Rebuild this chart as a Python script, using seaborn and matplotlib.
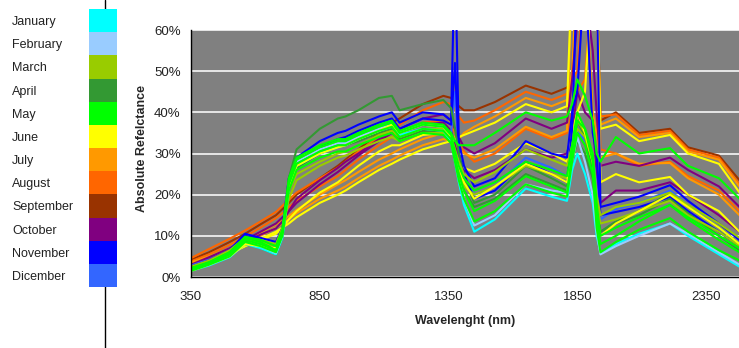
import pandas as pd
import matplotlib
matplotlib.use("Agg")
import matplotlib.pyplot as plt
import seaborn as sns
from matplotlib.lines import Line2D
from matplotlib.ticker import PercentFormatter

months = ['January', 'February', 'March', 'April', 'May', 'June', 'July',
          'August', 'September', 'October', 'November', 'Dicember']
month_colors = ['#00FFFF', '#99CCFF', '#99CC00', '#339933', '#00FF00', '#FFFF00',
                '#FF9900', '#FF6600', '#993300', '#800080', '#0000FF', '#3366FF']

wavelength = [350, 420, 500, 560, 620, 680, 705, 730, 760, 850, 920, 950, 1000,
              1080, 1130, 1160, 1250, 1330, 1360, 1375, 1390, 1410, 1450, 1530,
              1650, 1750, 1810, 1830, 1850, 1880, 1910, 1925, 1940, 2000, 2090,
              2210, 2280, 2400, 2480]

# reflectance (%) per spectrum
sep_a = [4.2, 6, 8.5, 10.5, 12.8, 15, 16.5, 18, 20, 24, 27, 28.5, 31, 35, 37.5, 38.5, 42, 44, 43.5, 42.5, 41.5, 40.5, 40.5, 42.5, 46.5, 44.5, 46, 48, 75, 75, 75, 75, 38, 40, 35, 36, 31.5, 29.5, 23.5]
aug_a = [4.6, 6.8, 9.3, 11.3, 13.5, 15.8, 17.3, 18.8, 20.5, 24, 26.5, 28, 30.5, 34, 36, 37, 40.5, 42.5, 42, 40.5, 39, 37.5, 38, 40.5, 45, 43, 44.5, 48, 50, 75, 75, 70, 39, 39.5, 34.5, 35.5, 31, 29, 22.5]
aug_b = [3.8, 5.5, 7.8, 9.8, 12, 14.3, 15.5, 17, 18.5, 22, 24.5, 26, 28.5, 32, 34, 35, 37.5, 38, 37, 35, 33, 30.5, 28, 30, 36, 33.5, 35, 40, 45, 48, 75, 72, 31, 30, 27, 28, 24.5, 21, 16]
jul_a = [3.5, 5, 7, 8.8, 10.8, 12.8, 13.8, 14.8, 16.3, 20, 22.5, 23.5, 25.5, 28.5, 30, 31, 33.5, 35, 34.5, 34, 33.5, 35, 36.5, 39, 43.5, 41.5, 43, 50, 75, 75, 75, 74, 37, 38.5, 34, 35, 30.5, 28.5, 22]
jul_b = [3, 4.5, 6.5, 8.3, 10, 12, 13, 14, 15.5, 19, 21, 22, 24, 27, 28.5, 29.5, 32, 33.5, 33, 32, 31, 30, 29, 31, 36.5, 34, 35.5, 75, 75, 75, 40, 35, 29, 30, 27.5, 27.7, 24, 20, 15]
jun_a = [2.5, 4, 5.8, 7.5, 9.3, 11, 12, 13, 14.5, 18, 20, 21, 23, 26, 27.5, 28.5, 31, 32.5, 33, 33.5, 34, 34.5, 35.5, 37.5, 42, 40, 41.5, 75, 76, 75, 75, 74, 36, 37, 33, 34.5, 30, 27.5, 20.5]
jun_b = [2, 3.5, 5.5, 7.5, 9, 10.5, 12, 14, 16, 20.5, 23, 24.5, 27, 30.5, 32, 32, 34.5, 35, 33, 30, 28, 26.5, 25.5, 27.5, 32.5, 30, 28, 35, 40, 45, 75, 75, 23, 25, 23, 24.3, 20, 16, 11]
jun_c = [1.5, 3, 5, 8, 7.5, 7, 11, 22, 27, 30, 31.5, 32, 33.5, 35.5, 37, 35, 37, 36.5, 34, 30, 27, 23, 19, 22, 27.5, 25, 23, 30, 40, 35, 28, 15, 10, 13, 16, 20, 17, 12, 8]
oct_a = [3, 4.8, 7, 9, 11, 13, 14.5, 16, 18, 22.5, 25.5, 27, 29.5, 33, 35, 36, 38.5, 39.5, 38, 36, 34, 31.5, 30, 32.5, 38.5, 36, 37.5, 48, 62, 70, 55, 40, 27, 28, 27, 29, 26, 22, 17]
oct_b = [2.8, 4.3, 6.5, 8.5, 10.3, 11.8, 13.5, 16, 19, 23.5, 26.5, 28, 30, 33.5, 35, 35, 37, 37.5, 35.5, 32, 29, 26, 24, 26, 31, 29, 30, 35, 45, 40, 38, 25, 18, 21, 21, 23, 20, 15, 11]
nov_a = [2.5, 4, 6.5, 10.5, 9.5, 8.5, 12, 24, 29, 33, 35, 35.5, 37, 39, 40, 37.5, 40, 39.5, 38, 80, 33, 27, 22, 24, 33, 30, 29, 40, 45, 75, 75, 75, 17, 18, 19.5, 22.3, 18.5, 13, 9]
nov_b = [2.2, 3.8, 6.5, 10, 9, 7.5, 11, 22, 27.5, 31.5, 33.5, 34, 35.5, 37.5, 38.5, 36, 38.5, 38, 37, 52, 30, 25, 19, 21, 28, 25, 23, 36, 75, 75, 35, 30, 15, 15.8, 17, 19.4, 16, 11, 7.5]
dic_a = [2.8, 4.2, 6.5, 9.5, 9, 8, 11.5, 22, 27, 30.5, 32, 33, 34.5, 36.5, 37.5, 35, 37, 36.5, 35, 45, 30, 24, 20, 22, 29, 26.5, 24.5, 30, 36, 33, 30, 22, 14, 16.5, 18, 21, 17.5, 12, 8]
apr_a = [2.5, 3.8, 6, 8.5, 7.5, 5.5, 10, 24, 31, 36, 38.5, 39, 40.5, 43.5, 44, 40.5, 42, 43, 41, 36, 30, 24, 18, 20, 27, 24, 22, 30, 38, 34, 26, 18, 11, 13, 15, 19, 15.5, 10, 6.5]
apr_b = [2, 3.5, 5.5, 8, 7, 5.5, 9.5, 21, 26.5, 30, 31.5, 32, 33, 35, 36, 33.5, 35.5, 35, 33, 29, 25, 21, 17, 19, 25, 22.5, 21, 28, 33, 30, 24, 15, 11, 13.5, 16, 20.4, 17, 12, 8]
mar_a = [2.5, 4, 6.5, 9.5, 9, 8, 12, 21, 25, 28, 30, 30.5, 32, 34.5, 35.5, 34, 36, 36, 34, 31, 28, 25, 23, 25.5, 31, 28.5, 27, 32, 38, 35, 30, 20, 15, 17, 18, 20.5, 17.5, 13, 9.5]
mar_b = [2.2, 3.8, 6, 9, 8.5, 7.5, 11, 19, 23.5, 27, 29, 29.5, 31, 33, 34, 33, 35, 35, 33, 30, 26, 22, 20, 22, 27, 25, 24, 30, 36, 34, 28, 18, 13, 14, 16, 18.5, 15, 11, 7.5]
may_a = [2, 3.5, 6, 9.5, 8.5, 6.5, 11, 24, 29, 32, 33.5, 33.5, 35, 37, 38, 35.5, 37.5, 37, 35, 33, 32, 32, 32, 35, 40, 38, 39, 42, 48, 44, 38, 30, 28, 34, 30, 31.3, 27, 24, 19]
may_b = [1.8, 3.2, 5.5, 9, 8, 6.5, 10.5, 22.5, 27.5, 30.5, 32, 32, 33.5, 35.5, 36.5, 34, 36, 35.5, 33.5, 29, 25, 21, 16, 18.5, 24.5, 22, 20.5, 30, 38, 36, 28, 15, 8, 10, 13.5, 17.5, 14, 9, 6]
may_c = [1.5, 3, 5, 8.5, 7.5, 6, 10, 21, 26, 29, 30.5, 30.5, 32, 34, 35, 33, 35, 34.5, 32.5, 28, 23.5, 19, 13.5, 16, 22.5, 20.5, 19.5, 28, 35, 32, 25, 12, 6, 8.5, 11.5, 14.3, 11, 6.5, 4]
may_d = [2.2, 3.6, 6, 9.8, 9, 7.5, 11.5, 23.5, 28.5, 31.5, 33, 33, 34.5, 36.5, 37.5, 35, 37, 36.5, 34.5, 30.5, 27, 24, 21, 23, 28, 26, 24.5, 32, 40, 36, 30, 18, 10, 12, 14.5, 17.5, 14.5, 10, 7]
feb_a = [1.8, 3, 5, 8.3, 7.5, 5.8, 10, 22, 28, 31, 32.5, 32.5, 34, 36, 37, 35, 37, 36.5, 34, 29, 24, 19, 12.5, 15, 22.5, 21, 20.5, 28, 34, 28, 20, 11, 5.5, 7.5, 10, 13, 10.5, 6, 3]
jan_a = [1.5, 2.8, 4.8, 8, 7, 5.5, 9.5, 21.5, 27, 30, 31.5, 32, 33.5, 35.5, 36.5, 34.5, 36, 35.5, 33, 28, 23, 17.5, 11, 14, 21.5, 19.5, 18.5, 26, 30, 25, 18, 10, 6, 8, 10.5, 13, 10, 5.5, 2.5]

# drawing order (first drawn ends up underneath)
curves = [
    ('sep_a', 'September', sep_a), ('aug_a', 'August', aug_a), ('aug_b', 'August', aug_b),
    ('jul_a', 'July', jul_a), ('jul_b', 'July', jul_b), ('oct_a', 'October', oct_a),
    ('oct_b', 'October', oct_b), ('jun_a', 'June', jun_a), ('jun_b', 'June', jun_b),
    ('dic_a', 'Dicember', dic_a), ('nov_b', 'November', nov_b), ('nov_a', 'November', nov_a),
    ('apr_b', 'April', apr_b), ('apr_a', 'April', apr_a), ('mar_a', 'March', mar_a),
    ('mar_b', 'March', mar_b), ('jan_a', 'January', jan_a), ('feb_a', 'February', feb_a),
    ('jun_c', 'June', jun_c), ('may_a', 'May', may_a), ('may_b', 'May', may_b),
    ('may_c', 'May', may_c), ('may_d', 'May', may_d),
]

rows = []
for cid, month, vals in curves:
    for w, v in zip(wavelength, vals):
        rows.append((cid, month, w, v))
df = pd.DataFrame(rows, columns=['curve', 'month', 'wavelength', 'reflectance'])
palette = {cid: month_colors[months.index(m)] for cid, m, _ in curves}

sns.set_style('white')
plt.rcParams['font.family'] = ['Liberation Sans', 'DejaVu Sans']

fig = plt.figure(figsize=(7.39, 3.48), dpi=100)

# spectra panel
ax = fig.add_axes([191 / 739, 1 - 277 / 348, 548 / 739, 247 / 348])
ax.set_facecolor('#808080')
sns.lineplot(data=df, x='wavelength', y='reflectance', hue='curve',
             hue_order=[c[0] for c in curves], palette=palette,
             estimator=None, legend=False, linewidth=1.5, ax=ax)
ax.set_xlim(350, 2478)
ax.set_ylim(0, 60)
ax.set_xticks([350, 850, 1350, 1850, 2350])
ax.set_yticks(range(0, 61, 10))
ax.yaxis.set_major_formatter(PercentFormatter(decimals=0))
ax.grid(axis='y', color='#EEEEEE', linewidth=1.3)
ax.grid(axis='x', visible=False)
ax.set_axisbelow(True)
for s in ['top', 'right']:
    ax.spines[s].set_visible(False)
for s in ['left', 'bottom']:
    ax.spines[s].set_color('black')
    ax.spines[s].set_linewidth(1.0)
ax.tick_params(axis='both', direction='out', length=4, width=1, color='black',
               labelsize=9.5, labelcolor='#222222')
ax.tick_params(axis='x', pad=6)
ax.set_xlabel('Wavelenght (nm)', fontsize=9, fontweight='bold')
ax.set_ylabel('Absolute Refelctance', fontsize=9, fontweight='bold')
ax.xaxis.set_label_coords(0.5, -0.155)
ax.yaxis.set_label_coords(-0.078, 0.52)

# month colour key on the left
fig.add_artist(Line2D([105 / 739, 105 / 739], [0, 1], color='black', linewidth=1, zorder=0))
ax_leg = fig.add_axes([89 / 739, 1 - 287 / 348, 28 / 739, 278 / 348])
ax_leg.barh(range(len(months)), 1, height=1, color=month_colors, linewidth=0)
ax_leg.set_ylim(len(months) - 0.5, -0.5)
ax_leg.set_xlim(0, 1)
ax_leg.set_xticks([])
ax_leg.set_yticks(range(len(months)), labels=months)
ax_leg.tick_params(axis='y', length=0, pad=55.4, labelsize=9, labelcolor='#222222')
for lab in ax_leg.get_yticklabels():
    lab.set_ha('left')
for s in ax_leg.spines.values():
    s.set_visible(False)

fig.savefig('out.png', dpi=100)
